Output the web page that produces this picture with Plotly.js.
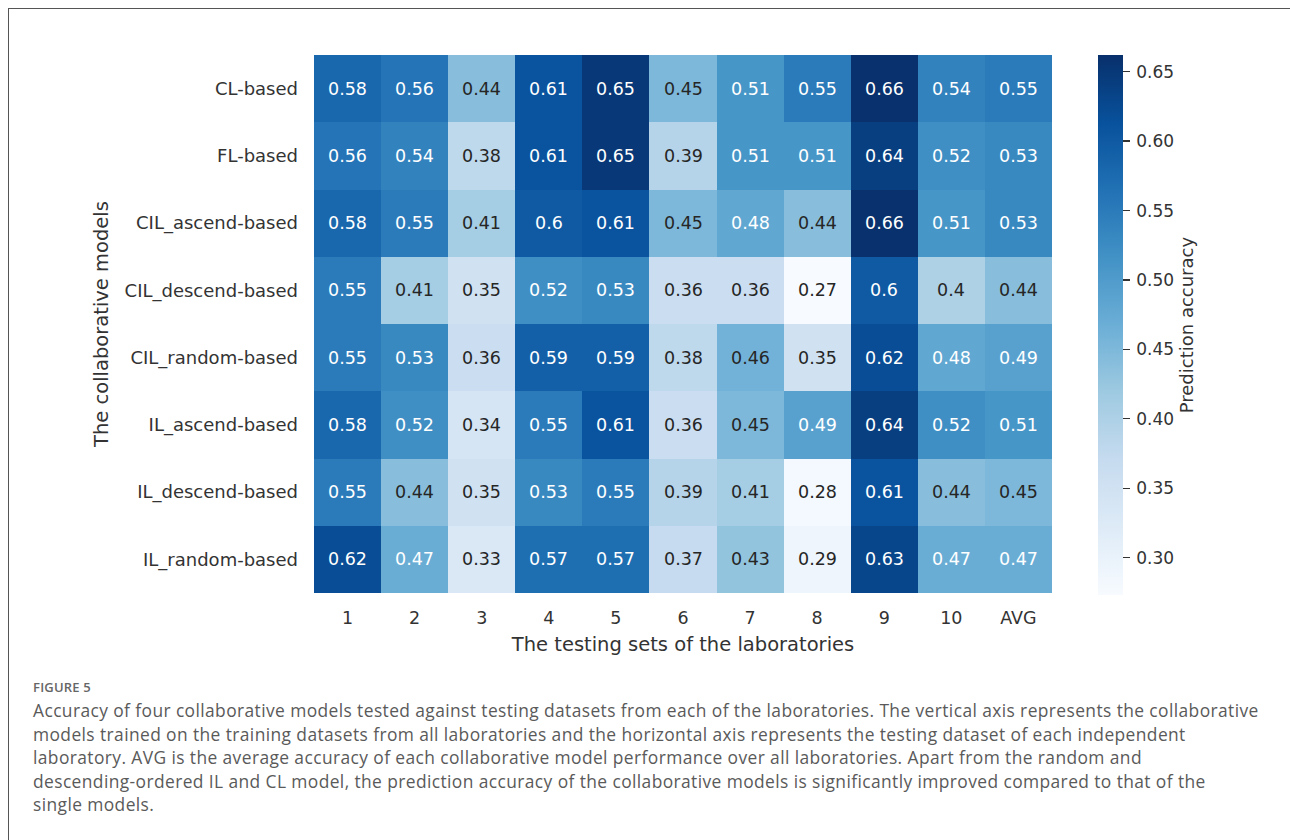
<!DOCTYPE html>
<html>
<head>
<meta charset="utf-8">
<script src="https://cdn.plot.ly/plotly-3.0.1.min.js"></script>
<style>
  html, body { margin:0; padding:0; background:#fff; width:1290px; height:840px; overflow:hidden; }
  #frame { position:absolute; left:8px; top:8px; width:1300px; height:900px; border-left:1px solid #555; border-top:1px solid #555; }
  #chart { position:absolute; left:0; top:0; width:1290px; height:840px; }
  #caption { position:absolute; left:33px; top:678px; font-family:"Open Sans", sans-serif; color:#5a5a5a; white-space:nowrap; }
  #caption .fig { font-size:13px; font-weight:600; color:#666; margin-bottom:3px; letter-spacing:0.2px; }
  #caption .txt { font-size:17.4px; line-height:23.5px; letter-spacing:0.4px; }
</style>
</head>
<body>
<div id="frame"></div>
<div id="chart"></div>
<div id="caption">
  <div class="fig">FIGURE 5</div>
  <div class="txt">Accuracy of four collaborative models tested against testing datasets from each of the laboratories. The vertical axis represents the collaborative<br>models trained on the training datasets from all laboratories and the horizontal axis represents the testing dataset of each independent<br>laboratory. AVG is the average accuracy of each collaborative model performance over all laboratories. Apart from the random and<br>descending-ordered IL and CL model, the prediction accuracy of the collaborative models is significantly improved compared to that of the<br>single models.</div>
</div>
<script>
const testingSets = ["1","2","3","4","5","6","7","8","9","10","AVG"];
const models = ["CL-based","FL-based","CIL_ascend-based","CIL_descend-based","CIL_random-based","IL_ascend-based","IL_descend-based","IL_random-based"];
const clBased         = [0.58,0.56,0.44,0.61,0.65,0.45,0.51,0.55,0.66,0.54,0.55];
const flBased         = [0.56,0.54,0.38,0.61,0.65,0.39,0.51,0.51,0.64,0.52,0.53];
const cilAscendBased  = [0.58,0.55,0.41,0.6,0.61,0.45,0.48,0.44,0.66,0.51,0.53];
const cilDescendBased = [0.55,0.41,0.35,0.52,0.53,0.36,0.36,0.27,0.6,0.4,0.44];
const cilRandomBased  = [0.55,0.53,0.36,0.59,0.59,0.38,0.46,0.35,0.62,0.48,0.49];
const ilAscendBased   = [0.58,0.52,0.34,0.55,0.61,0.36,0.45,0.49,0.64,0.52,0.51];
const ilDescendBased  = [0.55,0.44,0.35,0.53,0.55,0.39,0.41,0.28,0.61,0.44,0.45];
const ilRandomBased   = [0.62,0.47,0.33,0.57,0.57,0.37,0.43,0.29,0.63,0.47,0.47];
const colorbarTicks = [0.30,0.35,0.40,0.45,0.50,0.55,0.60,0.65];

const z = [clBased, flBased, cilAscendBased, cilDescendBased, cilRandomBased, ilAscendBased, ilDescendBased, ilRandomBased];

const blues = [
  [0,"#f7fbff"],[0.125,"#deebf7"],[0.25,"#c6dbef"],[0.375,"#9ecae1"],
  [0.5,"#6baed6"],[0.625,"#4292c6"],[0.75,"#2171b5"],[0.875,"#08519c"],[1,"#08306b"]
];

const annotations = [];
z.forEach((row, i) => {
  row.forEach((v, j) => {
    annotations.push({
      x: j, y: i, xref:"x", yref:"y",
      text: String(v), showarrow:false,
      font: {family:"DejaVu Sans", size:17.5, color: v >= 0.465 ? "#ffffff" : "#262626"}
    });
  });
});

const trace = {
  type:"heatmap",
  x: testingSets, y: models, z: z,
  colorscale: blues, zmin:0.273, zmax:0.662,
  xgap:0, ygap:0,
  hoverinfo:"skip",
  colorbar: {
    x: 1.0623, xanchor:"left", xref:"paper", xpad:0, ypad:0,
    y: 0.498, yanchor:"middle", len: 1.004, lenmode:"fraction",
    thickness: 25, thicknessmode:"pixels",
    outlinewidth: 0,
    tickvals: colorbarTicks,
    ticktext: colorbarTicks.map(t => "\u2009" + t.toFixed(2)),
    ticks:"outside", ticklen:7, tickwidth:1.3, tickcolor:"#333",
    tickfont:{family:"DejaVu Sans", size:17, color:"#333"},
    title:{text:"Prediction accuracy", side:"right", font:{family:"DejaVu Sans", size:18, color:"#333"}}
  }
};

const layout = {
  width:1290, height:840,
  margin:{l:314, r:238, t:55, b:247},
  paper_bgcolor:"rgba(0,0,0,0)", plot_bgcolor:"#fff",
  showlegend:false,
  xaxis:{
    type:"category", showgrid:false, zeroline:false, showline:false, ticks:"",
    ticklabelstandoff: 12,
    tickfont:{family:"DejaVu Sans", size:17.5, color:"#333"},
    title:{text:"The testing sets of the laboratories", standoff:10, font:{family:"DejaVu Sans", size:19.5, color:"#333"}}
  },
  yaxis:{
    type:"category", autorange:"reversed", showgrid:false, zeroline:false, showline:false, ticks:"",
    ticklabelstandoff: 15,
    tickfont:{family:"DejaVu Sans", size:18, color:"#333"},
    title:{text:"The collaborative models", standoff:10, font:{family:"DejaVu Sans", size:19.5, color:"#333"}}
  },
  annotations: annotations
};

Plotly.newPlot("chart", [trace], layout, {displayModeBar:false, staticPlot:true});
</script>
</body>
</html>
